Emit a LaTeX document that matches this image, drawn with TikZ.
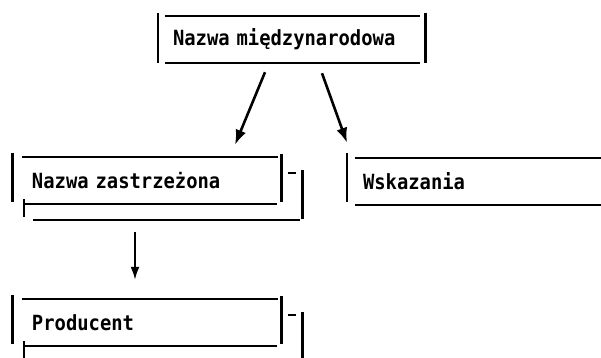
\documentclass[tikz,border=0pt]{standalone}
\usepackage{fontspec}
\newfontfamily\dotfont[FakeStretch=0.9]{DejaVu Sans Mono}
\newcommand\dotstyle{\dotfont\bfseries\fontsize{21}{24}\selectfont\spaceskip 0.54em\relax}
\usetikzlibrary{arrows.meta,calc}

\begin{document}
\begin{tikzpicture}[x=1bp, y=-1bp,
  frame/.style={rectangle, minimum height=47bp, inner ysep=0pt, align=left,
    font=\dotstyle},
  vbar/.style={line width=2.6bp},
  hrule/.style={line width=2bp},
  link/.style={line width=2.6bp, -{Latex[length=15bp,width=11bp]}}]

\useasboundingbox (0,0) rectangle (601,357);
\clip (0,0) rectangle (601,357);

% the boxes
\node[frame, inner xsep=15bp, text width=237bp] (intl) at (291.5,39.5) {Nazwa międzynarodowa};
\node[frame, inner xsep=19bp, text width=230bp] (prop) at (147,180.5) {Nazwa zastrzeżona};
\node[frame, inner xsep=16bp, text width=222bp] (ind) at (474,181.5) {Wskazania};
\node[frame, inner xsep=19bp, text width=230bp] (prod) at (147,322.5) {Producent};

% top frame
\draw[vbar] ($(intl.north west)+(0,-3)$) -- (intl.south west);
\draw[vbar] ($(intl.north east)+(0,-3)$) -- (intl.south east);
\draw[hrule] ($(intl.north west)+(7,0)$) -- ($(intl.north east)+(-5,0)$);
\draw[hrule] ($(intl.south west)+(7,0)$) -- ($(intl.south east)+(-5,0)$);

% left frames with their shadow
\foreach \b in {prop,prod} {
  \draw[vbar] ($(\b.north west)+(0,-4)$) -- ($(\b.south west)+(0,-2)$);
  \draw[vbar] ($(\b.north east)+(0,-3)$) -- ($(\b.south east)+(0,-2)$);
  \draw[hrule] ($(\b.north west)+(9,0)$) -- ($(\b.north east)+(-3,0)$);
  \draw[hrule] ($(\b.south west)+(11,0)$) -- ($(\b.south east)+(-4,0)$);
  \draw[hrule] ($(\b.south west)+(11,-5)$) -- ++(0,18);
  \draw[hrule] ($(\b.north east)+(7,16)$) -- ++(8,0);
  \draw[vbar] ($(\b.north east)+(21,13)$) -- ($(\b.south east)+(21,15)$);
  \draw[hrule] ($(\b.south west)+(20,16)$) -- ($(\b.south east)+(19,16)$);
}

% right frame, open on the right
\draw[vbar] ($(ind.north west)+(0,-5)$) -- ($(ind.south west)+(0,-3)$);
\draw[hrule] ($(ind.north west)+(8,0)$) -- (ind.north east);
\draw[hrule] ($(ind.south west)+(8,0)$) -- (ind.south east);

% arrows
\draw[link] ($(intl.south)+(-26.5,9)$) -- ($(prop.north)+(88,-12)$);
\draw[link] ($(intl.south)+(30.5,10)$) -- ($(ind.north)+(-127,-15)$);
\draw[line width=2bp, -{Latex[length=13bp,width=9bp]}] ($(prop.south)+(-12,28)$) -- ($(prod.north)+(-12,-19)$);
\end{tikzpicture}
\end{document}
